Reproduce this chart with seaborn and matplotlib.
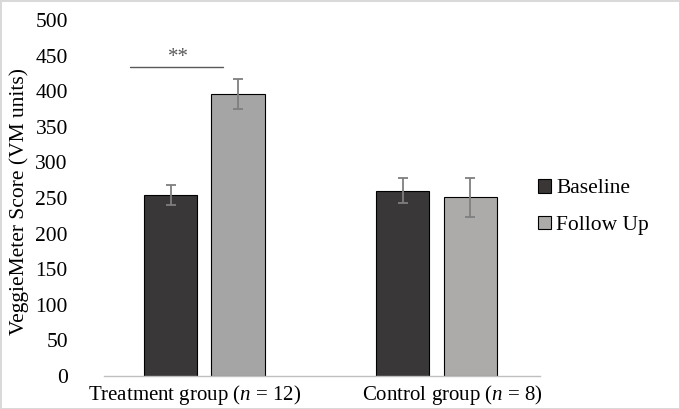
import pandas as pd
import seaborn as sns
import matplotlib.pyplot as plt
import matplotlib.transforms as mtransforms
from matplotlib.patches import Patch

groups = ['Treatment group ($\\it{n}$ = 12)', 'Control group ($\\it{n}$ = 8)']
phases = ['Baseline', 'Follow Up']
baseline = [254, 260]
followup = [396, 251]
baseline_se = [14.5, 17.5]
followup_se = [21.5, 27]

df = pd.DataFrame({
    'group': groups * 2,
    'phase': [phases[0]] * 2 + [phases[1]] * 2,
    'score': baseline + followup,
})

sns.set_style('white')
plt.rcParams['font.family'] = ['Liberation Serif', 'DejaVu Serif']
plt.rcParams['mathtext.fontset'] = 'custom'
plt.rcParams['mathtext.rm'] = 'Liberation Serif'
plt.rcParams['mathtext.it'] = 'Liberation Serif:italic'
plt.rcParams['text.color'] = 'black'
plt.rcParams['xtick.color'] = 'black'
plt.rcParams['ytick.color'] = 'black'
plt.rcParams['axes.labelcolor'] = 'black'

colors = {'Baseline': '#3a3636', 'Follow Up': '#adaaaa'}

fig = plt.figure(figsize=(6.8, 4.09), dpi=100)
ax = fig.add_axes([0.1529, 0.0807, 0.6412, 0.8703])

sns.barplot(data=df, x='group', y='score', hue='phase', hue_order=phases,
            order=groups, palette=colors, width=0.578, gap=0.209,
            errorbar=None, edgecolor='black', linewidth=0.8, legend=False, ax=ax)

# treatment follow-up bar is a slightly cooler grey in the original
ax.containers[1][0].set_facecolor('#a5a5a5')

# error bars on the bar centres
for cont, se in zip(ax.containers, [baseline_se, followup_se]):
    for bar, e in zip(cont, se):
        ax.errorbar(bar.get_x() + bar.get_width() / 2, bar.get_height(), yerr=e,
                    color='#7f7f7f', elinewidth=1.3, capsize=3.4, capthick=1.3)

ax.set_ylim(0, 500)
ax.set_xlim(-0.433, 1.446)
ax.set_yticks(range(0, 501, 50))
ax.tick_params(axis='y', length=0, pad=26, labelsize=15.5)
ax.tick_params(axis='x', length=0, pad=5, labelsize=15)
ax.set_xlabel('')
ax.set_ylabel('VeggieMeter Score (VM units)', fontsize=15.5)
ax.yaxis.set_label_coords(-0.171, 0.49)

# category labels sit a little off the bar centres in the original
for lab, dx in zip(ax.get_xticklabels(), [-10, 16]):
    lab.set_transform(lab.get_transform() +
                      mtransforms.ScaledTranslation(dx / 100, 0, fig.dpi_scale_trans))

sns.despine(ax=ax, left=True)
ax.spines['bottom'].set_color('#bfbfbf')
ax.spines['bottom'].set_linewidth(1)

# significance marker
ax.plot([-0.321, 0.080], [434, 434], color='#595959', lw=1)
ax.text(-0.114, 447, '**', ha='center', va='center', fontsize=15, color='#595959')

handles = [Patch(facecolor=colors[p], edgecolor='black', linewidth=0.8) for p in phases]
fig.legend(handles, phases, loc='center left', bbox_to_anchor=(0.791, 0.494),
           frameon=False, fontsize=15.5, handlelength=0.6, handleheight=0.6,
           handletextpad=0.25, labelspacing=0.8, borderpad=0, borderaxespad=0)

fig.patch.set_edgecolor('#d9d9d9')
fig.patch.set_linewidth(2)

fig.savefig('out.png', dpi=100)
